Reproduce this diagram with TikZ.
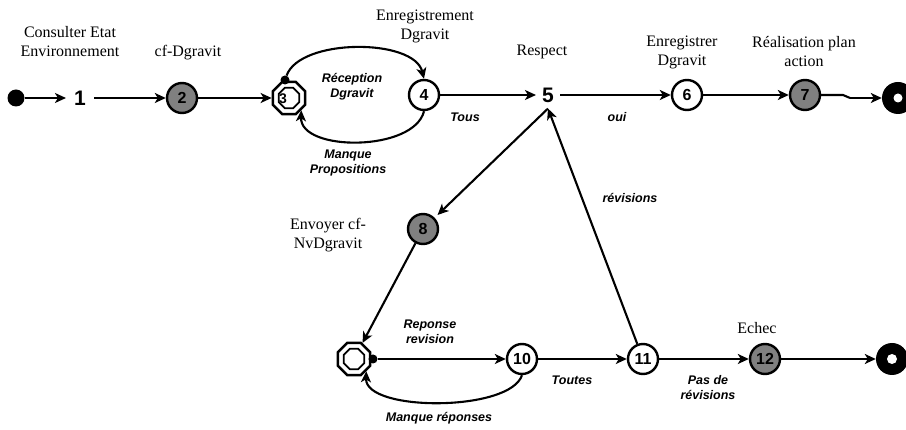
\documentclass[tikz,border=0pt]{standalone}
\usepackage{fontspec}
\newfontfamily\serf{Liberation Serif}
\newfontfamily\sansf{Liberation Sans}
\usetikzlibrary{arrows.meta,shapes.geometric}
\tikzset{
  st/.style={circle, draw, line width=2.4pt, minimum size=30pt, inner sep=0pt, fill=white,
    font=\sansf\bfseries\fontsize{16}{16}\selectfont},
  gst/.style={st, fill=black!50},
  octo/.style={regular polygon, regular polygon sides=8, draw, line width=2.4pt, minimum size=35pt, inner sep=0pt},
  octin/.style={regular polygon, regular polygon sides=8, draw, line width=1.8pt, minimum size=22pt, inner sep=0pt},
  big/.style={font=\sansf\bfseries\fontsize{21}{21}\selectfont, inner sep=8pt},
  lab/.style={font=\serf\fontsize{16}{19}\selectfont, align=center, inner sep=0pt},
  elab/.style={font=\sansf\bfseries\itshape\fontsize{12.5}{15}\selectfont, align=center, inner sep=0pt},
  arr/.style={-{Stealth[length=11pt,width=10pt,inset=3pt]}, line width=2.1pt},
  ln/.style={line width=2.1pt},
  dotn/.style={circle, fill=black, minimum size=9pt, inner sep=0pt},
}
\begin{document}
\begin{tikzpicture}[x=1pt,y=-1pt]
\useasboundingbox (0,0) rectangle (906,430);
% nodes top row
\node[circle, fill=black, minimum size=17pt, inner sep=0pt] (start) at (16,98) {};
\node[big] (one) at (80,98) {1};
\node[gst] (n2) at (182,98) {2};
\node[octo] (n3) at (289,98) {};
\node[font=\sansf\bfseries\fontsize{14}{14}\selectfont] (t3) at (283,99) {3};
\node[octin] (n3i) at (289,98) {};
\node[dotn] (d3) at (285,80) {};
\node[st] (n4) at (424,95) {4};
\node[big, inner sep=6pt] (five) at (548,95) {5};
\node[st] (n6) at (687,95) {6};
\node[gst] (n7) at (805,95) {7};
\node[circle, fill=black, minimum size=32pt, inner sep=0pt] (end1) at (898,98) {};
\node[circle, fill=white, minimum size=9pt, inner sep=0pt] (end1i) at (898,98) {};
% bottom row
\node[gst] (n8) at (423,229) {8};
\node[octo] (n9) at (354,359) {};
\node[octin] (n9i) at (354,359) {};
\node[dotn] (d9) at (373,359) {};
\node[st] (n10) at (522,359) {10};
\node[st] (n11) at (643,359) {11};
\node[gst] (n12) at (765,359) {12};
\node[circle, fill=black, minimum size=32pt, inner sep=0pt] (end2) at (892,359) {};
\node[circle, fill=white, minimum size=10pt, inner sep=0pt] (end2i) at (892,359) {};
\coordinate (w1) at (843,95);
\coordinate (w2) at (850,98);
% connectors
\draw[arr] (start) -- (one);
\draw[arr] (one) -- (n2);
\draw[arr] (n2) -- (n3);
\draw[arr] (d3) .. controls (300,38) and (414,38) .. (n4.north);
\draw[arr] (n4.south) .. controls (414,152) and (300,152) .. (n3.south east);
\draw[arr] (n4) -- (five);
\draw[arr] (five) -- (n6);
\draw[arr] (n6) -- (n7);
\draw[ln] (n7) -- (w1) -- (w2);
\draw[arr] (w2) -- (end1);
\draw[arr, shorten >=4pt] (five.south) -- (n8);
\draw[arr] (n8) -- (n9);
\draw[arr] (d9) -- (n10);
\draw[arr] (n10.south) .. controls (510,412) and (365,412) .. (n9.south east);
\draw[arr] (n10) -- (n11);
\draw[arr] (n11) -- (five.south);
\draw[arr] (n11) -- (n12);
\draw[arr] (n12) -- (end2);
% labels
\node[lab] (l1) at (70,42) {Consulter Etat\\Environnement};
\node[lab] (l2) at (188,53) {cf-Dgravit};
\node[lab] (l4) at (425,26) {Enregistrement\\Dgravit};
\node[lab] (l5) at (542,52) {Respect};
\node[lab] (l6) at (682,52) {Enregistrer\\Dgravit};
\node[lab] (l7) at (804,52) {Réalisation plan\\action};
\node[lab] (l8) at (328,235) {Envoyer cf-\\NvDgravit};
\node[lab] (l12) at (757,328) {Echec};
\node[elab] (e1) at (352,87) {Réception\\Dgravit};
\node[elab] (e2) at (465,117) {Tous};
\node[elab] (e3) at (348,163) {Manque\\Propositions};
\node[elab] (e4) at (617,117) {oui};
\node[elab] (e5) at (630,198) {révisions};
\node[elab] (e6) at (430,332) {Reponse\\revision};
\node[elab] (e7) at (572,380) {Toutes};
\node[elab] (e8) at (439,418) {Manque réponses};
\node[elab] (e9) at (708,388) {Pas de\\révisions};
\end{tikzpicture}
\end{document}
